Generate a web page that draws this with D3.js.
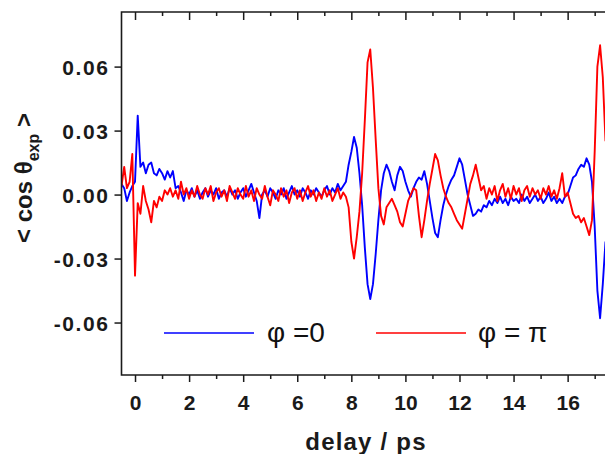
<!DOCTYPE html>
<html>
<head>
<meta charset="utf-8">
<script src="https://cdn.jsdelivr.net/npm/d3@7"></script>
<style>
  html, body { margin: 0; padding: 0; background: #fff; }
  svg { display: block; }
</style>
</head>
<body>
<script>
// ---- data ----
const delayStart = -0.5;   // ps, first sample
const delayStep = 0.1;     // ps, sampling step
const xTicks = [0, 2, 4, 6, 8, 10, 12, 14, 16];
const xMinorTicks = [1, 3, 5, 7, 9, 11, 13, 15, 17];
const yTicks = [-0.06, -0.03, 0.00, 0.03, 0.06];
const yTickLabels = ["-0.06", "-0.03", "0.00", "0.03", "0.06"];
const seriesNames = ["φ =0", "φ = π"];
const seriesColors = ["#0000ff", "#ff0000"];

const phi0 = [
  0.005, 0.003, -0.003, 0.001, 0.004, 0.006, 0.037, 0.013, 0.015, 0.010,
  0.014, 0.015, 0.010, 0.009, 0.012, 0.010, 0.007, 0.011, 0.008, 0.011,
  0.003, 0.004, 0.001, -0.003, 0.002, 0.000, 0.003, -0.001, 0.002, -0.002,
  0.001, 0.003, -0.001, 0.002, 0.000, 0.003, -0.002, 0.001, 0.002, -0.001,
  0.003, 0.000, 0.002, -0.002, 0.001, 0.003, -0.001, 0.002, 0.005, 0.001,
  -0.003, -0.011, 0.000, 0.002, -0.001, 0.003, 0.001, -0.002, 0.002, 0.000,
  0.003, -0.002, 0.001, 0.004, 0.000, 0.002, -0.001, 0.003, 0.001, -0.002,
  0.002, 0.000, 0.003, 0.001, -0.001, 0.002, 0.004, 0.000, 0.003, 0.001,
  0.005, 0.002, 0.004, 0.006, 0.014, 0.020, 0.027, 0.022, 0.010, -0.005,
  -0.025, -0.042, -0.049, -0.042, -0.028, -0.012, 0.002, 0.010, 0.014, 0.011,
  0.006, 0.002, 0.009, 0.013, 0.011, 0.006, 0.002, -0.001, 0.003, 0.006,
  0.008, 0.007, 0.011, 0.005, -0.003, -0.011, -0.018, -0.020, -0.012, -0.005,
  0.000, 0.004, 0.007, 0.009, 0.013, 0.017, 0.014, 0.007, 0.000, -0.005,
  -0.010, -0.009, -0.007, -0.008, -0.005, -0.006, -0.003, -0.005, -0.002, -0.004,
  -0.001, -0.004, -0.002, -0.005, -0.001, -0.003, -0.002, -0.004, 0.000, -0.003,
  -0.001, -0.004, -0.002, 0.000, -0.003, -0.001, -0.004, -0.002, 0.001, -0.003,
  -0.001, -0.004, -0.002, -0.004, -0.001, 0.000, 0.004, 0.008, 0.009, 0.012,
  0.014, 0.013, 0.017, 0.014, 0.006, -0.015, -0.045, -0.058, -0.042, -0.022
];

const phiPi = [
  0.004, 0.013, 0.003, 0.006, 0.019, -0.038, -0.004, -0.009, 0.004, -0.003,
  -0.007, -0.013, -0.003, -0.006, -0.001, -0.003, 0.002, 0.000, 0.003, -0.001,
  0.002, -0.002, 0.006, 0.000, 0.003, -0.002, 0.002, -0.001, 0.004, 0.000,
  -0.002, 0.003, 0.000, 0.004, -0.003, 0.001, 0.003, -0.001, 0.002, -0.003,
  0.004, 0.001, -0.002, 0.003, 0.000, -0.002, 0.004, -0.001, 0.002, -0.003,
  0.003, 0.000, -0.002, 0.004, -0.001, -0.005, 0.002, 0.000, -0.003, 0.003,
  -0.001, 0.002, -0.004, 0.001, 0.003, -0.002, 0.002, -0.003, 0.001, 0.004,
  -0.001, 0.002, -0.003, 0.001, -0.002, 0.003, -0.001, 0.002, -0.003, 0.000,
  0.003, -0.002, 0.001, -0.001, -0.006, -0.022, -0.030, -0.020, -0.008, 0.010,
  0.035, 0.062, 0.068, 0.050, 0.026, 0.003, -0.010, -0.014, -0.006, -0.004,
  -0.002, -0.005, -0.008, -0.013, -0.015, -0.009, -0.003, 0.000, 0.003, 0.002,
  -0.010, -0.020, -0.012, -0.003, 0.005, 0.012, 0.019, 0.016, 0.009, 0.003,
  -0.001, -0.004, -0.006, -0.009, -0.012, -0.014, -0.016, -0.009, -0.002, 0.005,
  0.009, 0.014, 0.008, 0.002, 0.004, -0.002, 0.003, 0.000, 0.004, -0.003,
  0.002, 0.005, -0.001, 0.003, -0.002, 0.004, 0.000, 0.003, -0.003, 0.002,
  0.004, -0.001, 0.003, 0.000, 0.002, -0.002, 0.003, 0.000, 0.004, -0.001,
  0.002, -0.002, 0.003, 0.010, -0.001, 0.001, -0.004, -0.009, -0.011, -0.010,
  -0.013, -0.011, -0.015, -0.019, -0.012, 0.020, 0.060, 0.070, 0.055, 0.025
];

// ---- layout ----
const W = 605, H = 454;
const mLeft = 121.5, mTop = 12, mBottom = 375, mRight = 608.2;

const svg = d3.select("body").append("svg")
  .attr("width", W).attr("height", H)
  .style("font-family", "'Liberation Sans', Arial, sans-serif");

svg.append("rect").attr("width", W).attr("height", H).attr("fill", "#fff");

const x = d3.scaleLinear().domain([-0.5, 17.5]).range([mLeft, mRight]);
const y = d3.scaleLinear().domain([-0.0846, 0.0856]).range([mBottom, mTop]);

svg.append("defs").append("clipPath").attr("id", "plot")
  .append("rect").attr("x", mLeft).attr("y", mTop)
  .attr("width", mRight - mLeft).attr("height", mBottom - mTop);

const toPoints = arr => arr.map((v, i) => [delayStart + i * delayStep, v]);
const line = d3.line().x(d => x(d[0])).y(d => y(d[1]));

const gLines = svg.append("g").attr("clip-path", "url(#plot)");
[phi0, phiPi].forEach((s, k) => {
  gLines.append("path")
    .attr("d", line(toPoints(s)))
    .attr("fill", "none")
    .attr("stroke", seriesColors[k])
    .attr("stroke-width", 1.9)
    .attr("stroke-linejoin", "round");
});

// Axes
const axisColor = "#1a1a1a";
function styleTicks(g) {
  g.select(".domain").remove();
  g.selectAll("line").attr("stroke", axisColor).attr("stroke-width", 1.5);
}
const xAxis = svg.append("g").attr("transform", `translate(0,${mBottom})`)
  .call(d3.axisBottom(x).tickValues(xTicks).tickSize(7).tickSizeOuter(0)
    .tickFormat(d3.format("d")));
styleTicks(xAxis);
xAxis.selectAll("text").attr("font-size", 21).attr("font-weight", "bold").attr("fill", axisColor)
  .attr("dy", null).attr("y", 35);

const xMinor = svg.append("g").attr("transform", `translate(0,${mBottom})`)
  .call(d3.axisBottom(x).tickValues(xMinorTicks).tickSize(4).tickSizeOuter(0).tickFormat(""));
styleTicks(xMinor);

// top ticks (inward)
const xTop = svg.append("g").attr("transform", `translate(0,${mTop})`)
  .call(d3.axisBottom(x).tickValues(xTicks).tickSize(8).tickSizeOuter(0).tickFormat(""));
styleTicks(xTop);
const xTopMinor = svg.append("g").attr("transform", `translate(0,${mTop})`)
  .call(d3.axisBottom(x).tickValues(xMinorTicks).tickSize(4).tickSizeOuter(0).tickFormat(""));
styleTicks(xTopMinor);

const yAxis = svg.append("g").attr("transform", `translate(${mLeft},0)`)
  .call(d3.axisLeft(y).tickValues(yTicks).tickSize(7).tickSizeOuter(0)
    .tickFormat((d, i) => yTickLabels[i]));
styleTicks(yAxis);
yAxis.selectAll("text").attr("font-size", 21).attr("font-weight", "bold").attr("fill", axisColor)
  .attr("letter-spacing", 1.6).attr("dy", "0.36em").attr("x", -12);

// frame
svg.append("path")
  .attr("d", `M${mRight},${mTop}H${mLeft}V${mBottom}H${mRight}`)
  .attr("fill", "none").attr("stroke", axisColor).attr("stroke-width", 1.6);

// axis titles
svg.append("text")
  .attr("x", 366).attr("y", 450)
  .attr("text-anchor", "middle")
  .attr("font-size", 24).attr("font-weight", "bold").attr("fill", axisColor)
  .attr("letter-spacing", 1.2)
  .text("delay / ps");

const yt = svg.append("text")
  .attr("transform", "translate(32,178) rotate(-90)")
  .attr("text-anchor", "middle")
  .attr("font-weight", "bold").attr("fill", axisColor);
yt.append("tspan").attr("font-size", 24).text("< cos θ");
yt.append("tspan").attr("font-size", 16).attr("dy", 7).text("exp");
yt.append("tspan").attr("font-size", 24).attr("dy", -7).text(" >");

// legend
const legendItems = [
  { x1: 164, x2: 254, tx: 267 },
  { x1: 376, x2: 466, tx: 478 }
];
legendItems.forEach((it, k) => {
  svg.append("line").attr("x1", it.x1).attr("x2", it.x2).attr("y1", 333).attr("y2", 333)
    .attr("stroke", seriesColors[k]).attr("stroke-width", 1.6);
  svg.append("text").attr("x", it.tx).attr("y", 342)
    .attr("font-size", 28).attr("fill", "#111")
    .text(seriesNames[k]);
});
</script>
</body>
</html>
